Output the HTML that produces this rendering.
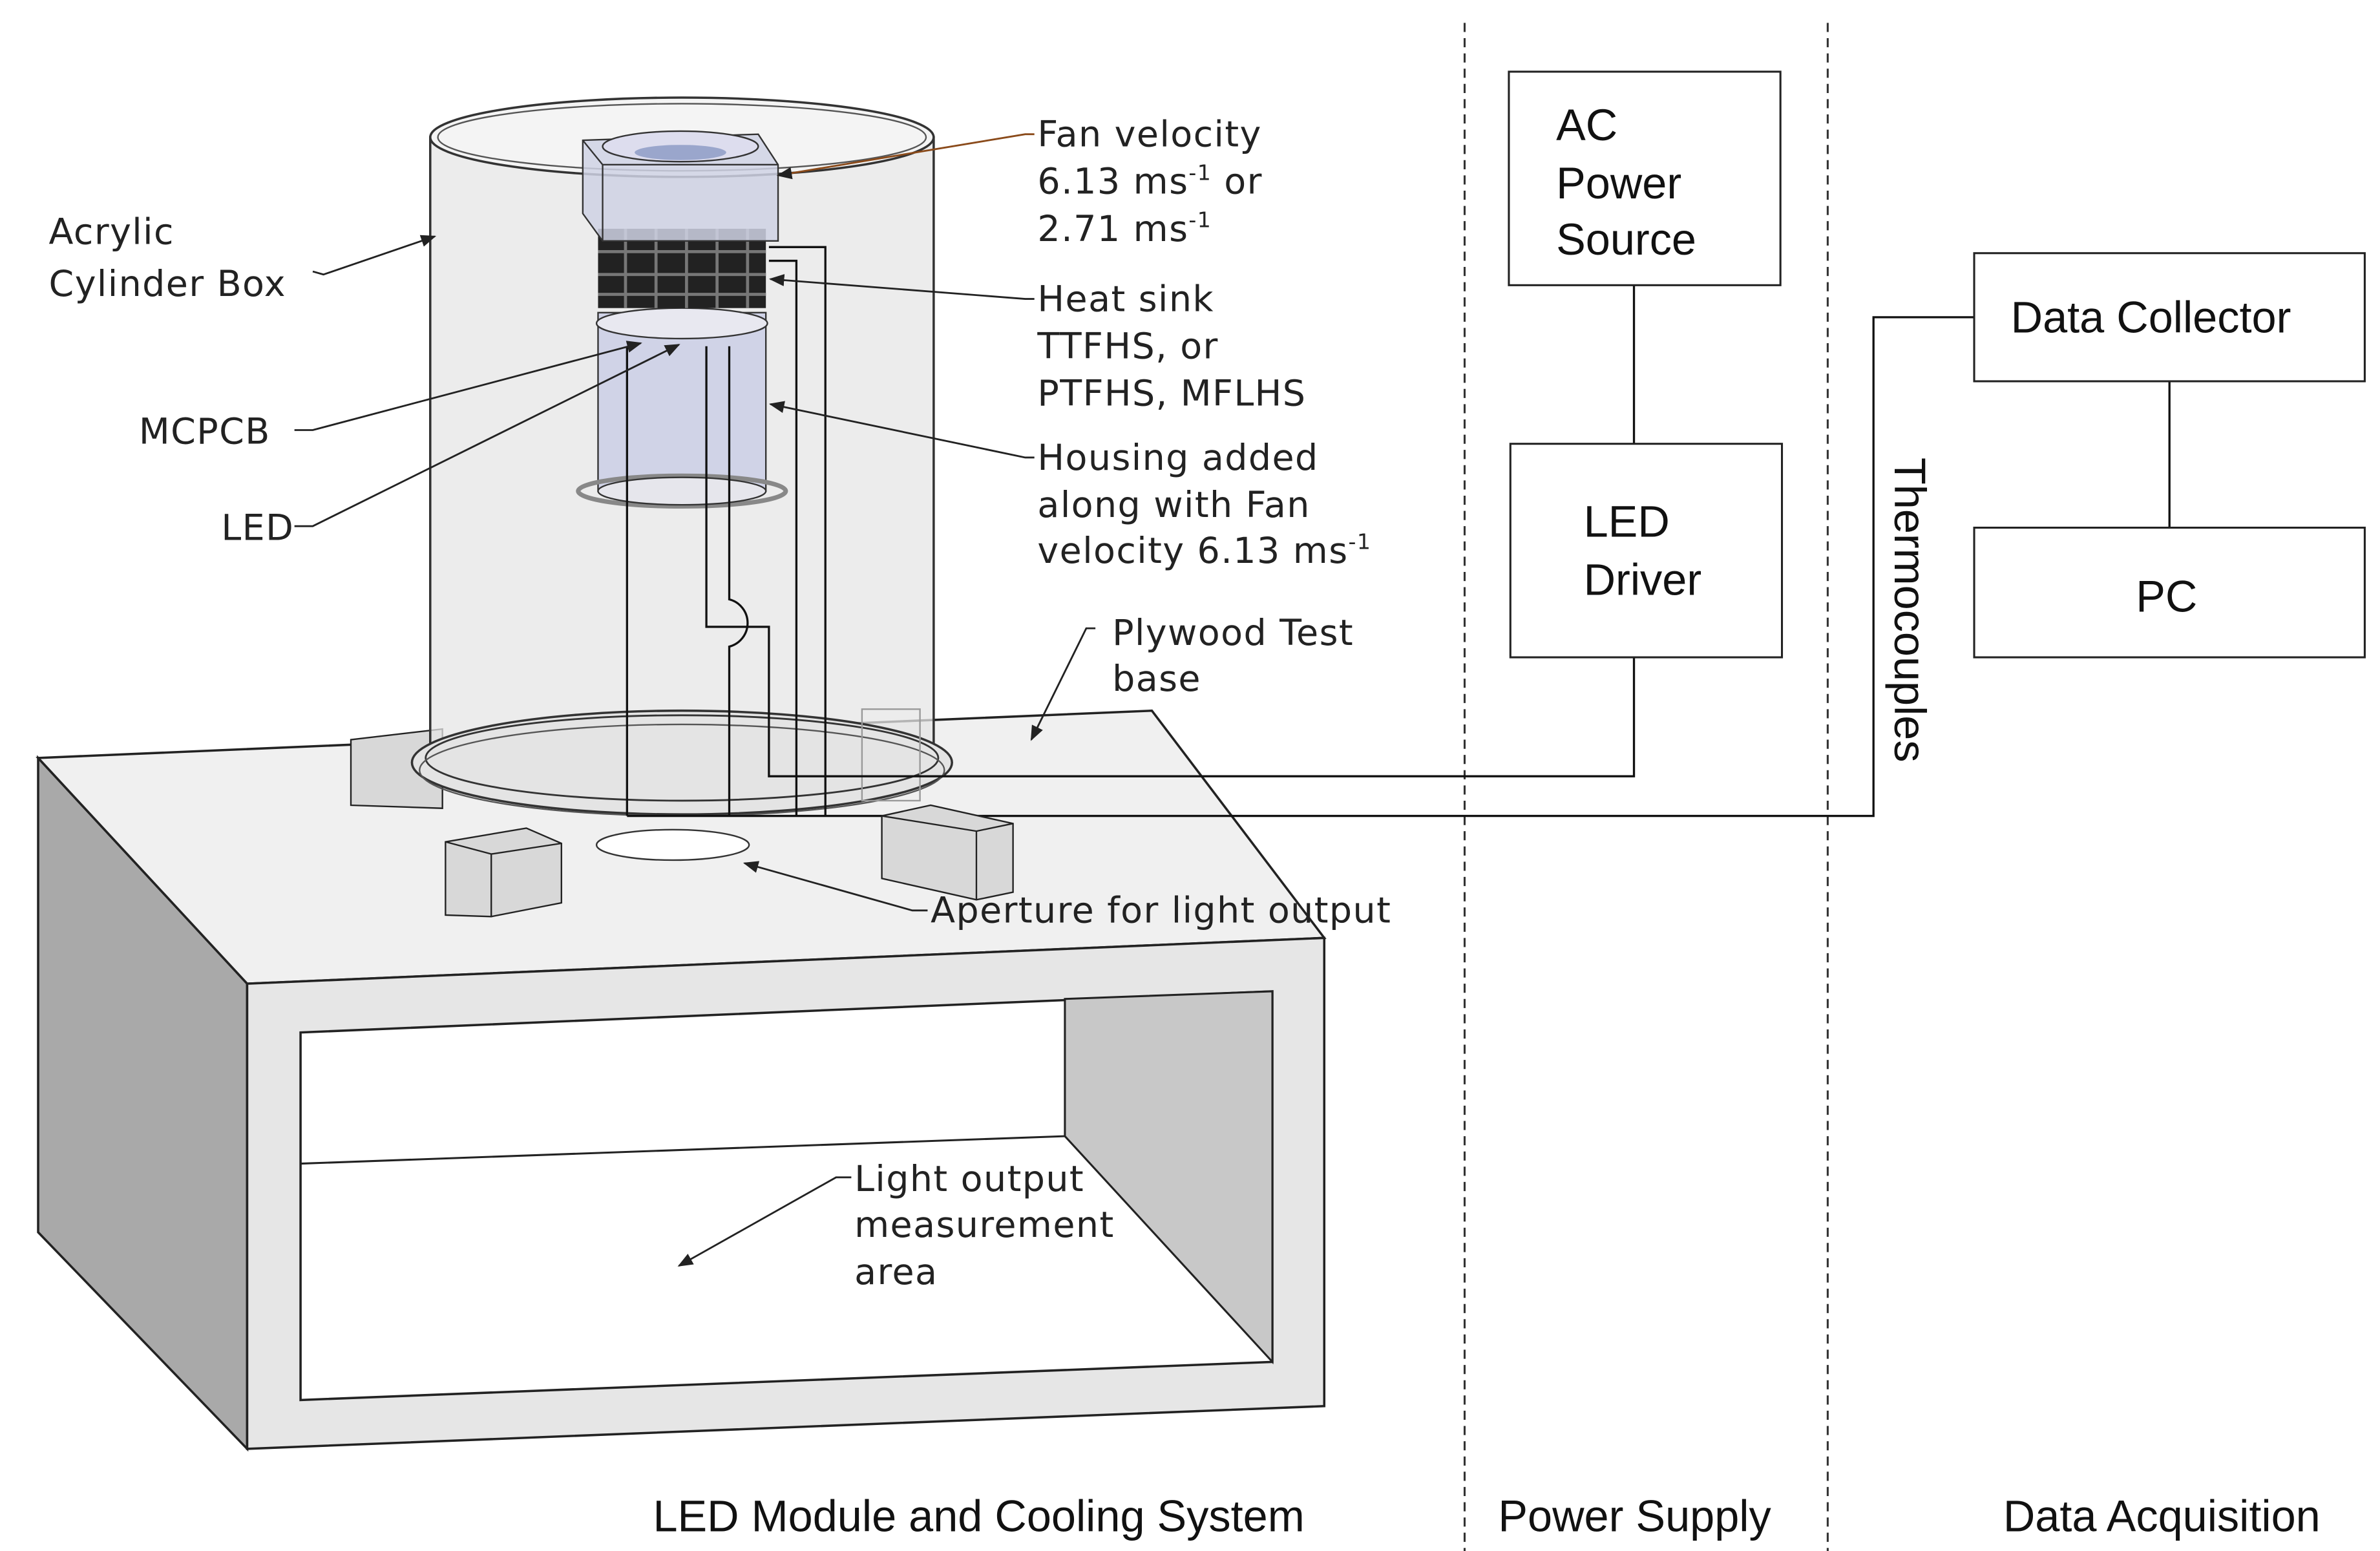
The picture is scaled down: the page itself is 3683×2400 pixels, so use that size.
<!DOCTYPE html>
<html><head><meta charset="utf-8"><style>
html,body{margin:0;padding:0;background:#fff;}
svg{display:block}
.t{font-family:"DejaVu Sans","Liberation Sans",sans-serif;font-size:23.5px;letter-spacing:0.6px;fill:#222}
.a{font-family:"Liberation Sans",sans-serif;font-size:29px;fill:#111}
</style></head><body>
<svg width="3683" height="2400" viewBox="0 0 1560 1017" preserveAspectRatio="none" xmlns="http://www.w3.org/2000/svg">
<defs><marker id="ar" markerWidth="10" markerHeight="8" refX="9" refY="4" orient="auto" markerUnits="userSpaceOnUse"><path d="M0,0 L10,4 L0,8 z" fill="#222"/></marker></defs>
<line x1="960" y1="15" x2="960" y2="1017" stroke="#333" stroke-width="1.3" stroke-dasharray="6,4"/>
<line x1="1198" y1="15" x2="1198" y2="1017" stroke="#333" stroke-width="1.3" stroke-dasharray="6,4"/>
<polygon points="25,497 162,645 162,950 25,808" fill="#a9a9a9" stroke="#222" stroke-width="1.5"/>
<polygon points="25,497 755,466 868,615 162,645" fill="#f0f0f0" stroke="#222" stroke-width="1.5"/>
<polygon points="162,645 868,615 868,922 162,950" fill="#e6e6e6" stroke="#222" stroke-width="1.5"/>
<polygon points="197,677 834,650 834,893 197,918" fill="#fff" stroke="#222" stroke-width="1.5"/>
<polygon points="698,655 834,650 834,893 698,745" fill="#c8c8c8" stroke="#222" stroke-width="1.3"/>
<line x1="197" y1="763" x2="698" y2="745" stroke="#222" stroke-width="1.3"/>
<polygon points="230,485 290,478 290,530 230,528" fill="#d8d8d8" stroke="#222"/>
<rect x="282" y="90" width="330" height="410" fill="#e6e6e6" fill-opacity="0.75" stroke="#333" stroke-width="1.5"/>
<ellipse cx="447" cy="90" rx="165" ry="26" fill="#f4f4f4" stroke="#333" stroke-width="1.5"/>
<ellipse cx="447" cy="90" rx="160" ry="22" fill="none" stroke="#555" stroke-width="1"/>
<ellipse cx="447" cy="500" rx="177" ry="34" fill="#e4e4e4" stroke="#333" stroke-width="1.5"/>
<ellipse cx="447" cy="497" rx="168" ry="28" fill="none" stroke="#333" stroke-width="1.2"/>
<ellipse cx="447" cy="505" rx="172" ry="30" fill="none" stroke="#555" stroke-width="1"/>
<ellipse cx="441" cy="554" rx="50" ry="10" fill="#fff" stroke="#333"/>
<rect x="565" y="465" width="38" height="60" fill="none" stroke="#999"/>
<rect x="392" y="205" width="110" height="117" fill="#c9cde6" fill-opacity="0.8" stroke="#333"/>
<ellipse cx="447" cy="322" rx="68" ry="10" fill="none" stroke="#888" stroke-width="3"/>
<ellipse cx="447" cy="322" rx="55" ry="9" fill="#e6e6ec" stroke="#333"/>
<ellipse cx="447" cy="212" rx="56" ry="10" fill="#e8e8f0" stroke="#333"/>
<rect x="392" y="150" width="110" height="52" fill="#222"/>
<g stroke="#777" stroke-width="2"><line x1="392" y1="165" x2="502" y2="165"/><line x1="392" y1="180" x2="502" y2="180"/><line x1="392" y1="193" x2="502" y2="193"/><line x1="410" y1="150" x2="410" y2="202"/><line x1="430" y1="150" x2="430" y2="202"/><line x1="450" y1="150" x2="450" y2="202"/><line x1="470" y1="150" x2="470" y2="202"/><line x1="490" y1="150" x2="490" y2="202"/></g>
<polygon points="382,92 497,88 510,108 510,158 395,158 382,140" fill="#cfd2e4" fill-opacity="0.85" stroke="#333"/>
<line x1="382" y1="92" x2="395" y2="108" stroke="#333"/><line x1="395" y1="108" x2="510" y2="108" stroke="#333"/><line x1="395" y1="108" x2="395" y2="158" stroke="#333"/>
<ellipse cx="446" cy="96" rx="51" ry="10" fill="#dde" stroke="#333"/>
<ellipse cx="446" cy="100" rx="30" ry="5" fill="#9aa6cc"/>
<g fill="none" stroke="#111" stroke-width="1.4">
<polyline points="504,162 541,162 541,535"/>
<polyline points="504,171 522,171 522,535"/>
<polyline points="411,227 411,535"/>
<polyline points="463,227 463,411 504,411 504,509 1071,509 1071,431"/>
<path d="M478,227 L478,393 A16,16 0 0 1 478,424 L478,535"/>
<polyline points="411,535 1228,535 1228,208 1294,208"/>
<line x1="1071" y1="187" x2="1071" y2="291"/>
<line x1="1422" y1="250" x2="1422" y2="346"/>
</g>
<polygon points="292,552 345,543 368,553 368,592 322,601 292,600" fill="#d8d8d8" stroke="#222"/>
<line x1="292" y1="552" x2="322" y2="560" stroke="#222"/><line x1="322" y1="560" x2="368" y2="553" stroke="#222"/><line x1="322" y1="560" x2="322" y2="601" stroke="#222"/>
<polygon points="578,535 610,528 664,540 664,585 640,590 578,576" fill="#d8d8d8" stroke="#222"/>
<line x1="578" y1="535" x2="640" y2="545" stroke="#222"/><line x1="640" y1="545" x2="664" y2="540" stroke="#222"/><line x1="640" y1="545" x2="640" y2="590" stroke="#222"/>
<g fill="none" stroke="#222" stroke-width="1.2">
<polyline points="678,88 672,88 510,115" stroke="#8a4a1a" marker-end="url(#ar)"/>
<polyline points="678,196 672,196 505,183" marker-end="url(#ar)"/>
<polyline points="678,300 672,300 505,265" marker-end="url(#ar)"/>
<polyline points="205,178 212,180 285,155" marker-end="url(#ar)"/>
<polyline points="193,282 205,282 420,225" marker-end="url(#ar)"/>
<polyline points="193,345 205,345 445,226" marker-end="url(#ar)"/>
<polyline points="718,412 712,412 676,485" marker-end="url(#ar)"/>
<polyline points="608,597 598,597 488,566" marker-end="url(#ar)"/>
<polyline points="558,772 548,772 445,830" marker-end="url(#ar)"/>
</g>
<text class="t"><tspan x="680" y="96">Fan velocity</tspan><tspan x="680" y="127">6.13 ms<tspan dy="-9" font-size="14">-1</tspan><tspan dy="9"> or</tspan></tspan><tspan x="680" y="158">2.71 ms<tspan dy="-9" font-size="14">-1</tspan></tspan></text>
<text class="t"><tspan x="680" y="204">Heat sink</tspan><tspan x="680" y="235">TTFHS, or</tspan><tspan x="680" y="266">PTFHS, MFLHS</tspan></text>
<text class="t"><tspan x="680" y="308">Housing added</tspan><tspan x="680" y="339">along with Fan</tspan><tspan x="680" y="369">velocity 6.13 ms<tspan dy="-9" font-size="14">-1</tspan></tspan></text>
<text class="t"><tspan x="729" y="423">Plywood Test</tspan><tspan x="729" y="453">base</tspan></text>
<text class="t" x="610" y="605">Aperture for light output</text>
<text class="t"><tspan x="560" y="781">Light output</tspan><tspan x="560" y="811">measurement</tspan><tspan x="560" y="842">area</tspan></text>
<text class="t"><tspan x="32" y="160">Acrylic</tspan><tspan x="32" y="194">Cylinder Box</tspan></text>
<text class="t" x="91" y="291">MCPCB</text>
<text class="t" x="145" y="354">LED</text>
<g fill="#fff" stroke="#222" stroke-width="1.3">
<rect x="989" y="47" width="178" height="140"/>
<rect x="990" y="291" width="178" height="140"/>
<rect x="1294" y="166" width="256" height="84"/>
<rect x="1294" y="346" width="256" height="85"/>
</g>
<text class="a"><tspan x="1020" y="92">AC</tspan><tspan x="1020" y="130">Power</tspan><tspan x="1020" y="167">Source</tspan></text>
<text class="a"><tspan x="1038" y="352">LED</tspan><tspan x="1038" y="390">Driver</tspan></text>
<text class="a" x="1318" y="218">Data Collector</text>
<text class="a" x="1400" y="401">PC</text>
<text class="a" transform="translate(1242,300) rotate(90)" x="0" y="0">Thermocouples</text>
<text class="a" x="428" y="1004">LED Module and Cooling System</text>
<text class="a" x="982" y="1004">Power Supply</text>
<text class="a" x="1313" y="1004">Data Acquisition</text>
</svg>
</body></html>
